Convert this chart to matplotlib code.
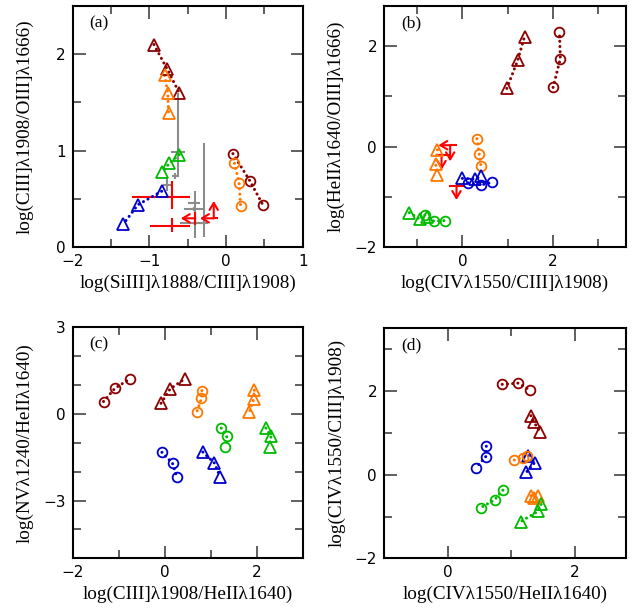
import matplotlib.pyplot as plt
import numpy as np
from matplotlib.ticker import MultipleLocator

DR = '#8B0000'
OR = '#FF7700'
GR = '#00BB00'
BL = '#0000CC'
GRAY = '#8C8C8C'

# panel (a)
a_tri_dr_x = [-0.94, -0.77, -0.61]
a_tri_dr_y = [2.10, 1.85, 1.60]
a_tri_or_x = [-0.80, -0.76, -0.75]
a_tri_or_y = [1.78, 1.60, 1.39]
a_tri_gr_x = [-0.61, -0.74, -0.83]
a_tri_gr_y = [0.96, 0.87, 0.78]
a_tri_bl_x = [-0.84, -1.15, -1.34]
a_tri_bl_y = [0.58, 0.44, 0.24]
a_cir_dr_x = [0.09, 0.31, 0.48]
a_cir_dr_y = [0.97, 0.69, 0.44]
a_cir_or_x = [0.11, 0.17, 0.19]
a_cir_or_y = [0.87, 0.67, 0.43]

# gray crosses (a)
a_gray_x = [-0.62, -0.66, -0.77, -0.41, -0.42, -0.29]
a_gray_y = [0.99, 0.74, 0.64, 0.46, 0.40, 0.25]
a_gray_xlo = [0.10, 0.04, 0.05, 0.08, 0.13, 0.31]
a_gray_xhi = [0.08, 0.05, 0.08, 0.07, 0.13, 0.05]
a_gray_ylo = [0.26, 0.03, 0.06, 0.36, 0.02, 0.14]
a_gray_yhi = [0.61, 0.03, 0.09, 0.12, 0.02, 0.83]

# red crosses (a)
a_red_x = [-0.70, -0.70]
a_red_y = [0.52, 0.22]
a_red_xlo = [0.52, 0.29]
a_red_xhi = [0.23, 0.23]
a_red_ylo = [0.12, 0.06]
a_red_yhi = [0.17, 0.08]

# red limits (a)
a_lim_x = [-0.40, -0.16]
a_lim_y = [0.30, 0.30]
a_lim_xto = [-0.59, -0.34]
a_lim_xhi = [0.0, 0.05]
a_lim_yerr = [0.07, 0.0]
a_lim_yto = [None, 0.48]

# panel (b)
b_tri_dr_x = [0.98, 1.22, 1.37]
b_tri_dr_y = [1.16, 1.72, 2.19]
b_cir_dr_x = [2.00, 2.16, 2.14]
b_cir_dr_y = [1.18, 1.75, 2.29]
b_cir_or_x = [0.32, 0.37, 0.41]
b_cir_or_y = [0.16, -0.14, -0.39]
b_tri_or_x = [-0.55, -0.59, -0.57]
b_tri_or_y = [-0.06, -0.34, -0.56]
b_tri_bl_x = [0.00, 0.27, 0.41]
b_tri_bl_y = [-0.63, -0.64, -0.59]
b_cir_bl_x = [0.13, 0.41, 0.65]
b_cir_bl_y = [-0.72, -0.76, -0.71]
b_tri_gr_x = [-1.17, -0.94, -0.79]
b_tri_gr_y = [-1.31, -1.44, -1.40]
b_cir_gr_x = [-0.83, -0.63, -0.39]
b_cir_gr_y = [-1.36, -1.48, -1.47]

# red limits (b)
b_lim_x = [-0.27, -0.46, -0.13]
b_lim_y = [0.03, -0.16, -0.78]
b_lim_xlo = [0.0, 0.11, 0.16]
b_lim_xhi = [0.16, 0.19, 0.17]
b_lim_xto = [-0.53, None, None]
b_lim_yto = [-0.29, -0.46, -1.06]

# panel (c)
c_cir_dr_x = [-1.33, -1.08, -0.76]
c_cir_dr_y = [0.43, 0.89, 1.21]
c_tri_dr_x = [-0.08, 0.12, 0.44]
c_tri_dr_y = [0.37, 0.87, 1.22]
c_cir_or_x = [0.81, 0.80, 0.70]
c_cir_or_y = [0.81, 0.54, 0.08]
c_tri_or_x = [1.95, 1.94, 1.84]
c_tri_or_y = [0.82, 0.53, 0.06]
c_cir_gr_x = [1.23, 1.35, 1.32]
c_cir_gr_y = [-0.49, -0.77, -1.13]
c_tri_gr_x = [2.20, 2.31, 2.29]
c_tri_gr_y = [-0.49, -0.77, -1.13]
c_cir_bl_x = [-0.06, 0.17, 0.27]
c_cir_bl_y = [-1.33, -1.71, -2.20]
c_tri_bl_x = [0.83, 1.08, 1.21]
c_tri_bl_y = [-1.32, -1.70, -2.19]

# panel (d)
d_cir_dr_x = [0.86, 1.11, 1.29]
d_cir_dr_y = [2.16, 2.19, 2.03]
d_tri_dr_x = [1.31, 1.36, 1.46]
d_tri_dr_y = [1.41, 1.25, 1.02]
d_cir_bl_x = [0.61, 0.60, 0.45]
d_cir_bl_y = [0.68, 0.43, 0.17]
d_tri_bl_x = [1.27, 1.37, 1.24]
d_tri_bl_y = [0.45, 0.29, 0.06]
d_cir_or_x = [1.05, 1.19, 1.25]
d_cir_or_y = [0.35, 0.41, 0.44]
d_tri_or_x = [1.31, 1.36, 1.42]
d_tri_or_y = [-0.50, -0.55, -0.52]
d_cir_gr_x = [0.87, 0.74, 0.52]
d_cir_gr_y = [-0.37, -0.60, -0.79]
d_tri_gr_x = [1.47, 1.42, 1.15]
d_tri_gr_y = [-0.71, -0.88, -1.12]

plt.rcParams['font.family'] = 'DejaVu Sans'

fig = plt.figure(figsize=(6.41, 6.08), dpi=100)
axa = fig.add_axes([0.1134, 0.5933, 0.3588, 0.3969])
axb = fig.add_axes([0.5990, 0.5933, 0.3770, 0.3969])
axc = fig.add_axes([0.1134, 0.0817, 0.3588, 0.3800])
axd = fig.add_axes([0.5990, 0.0817, 0.3770, 0.3783])


def serie(ax, x, y, col, mk):
    ms = 8.5 if mk == '^' else 7
    ax.plot(x, y, linestyle=(0, (0.01, 1.7)), color=col, lw=2.2,
            dash_capstyle='round', zorder=3)
    ax.plot(x, y, linestyle='none', marker=mk, ms=ms, mfc='none', mec=col,
            mew=1.3, zorder=4)


def arrow(ax, x0, y0, x1, y1):
    ax.annotate('', xy=(x1, y1), xytext=(x0, y0),
                arrowprops=dict(arrowstyle='->,head_length=0.5,head_width=0.3',
                                color='red', lw=1.5, shrinkA=0, shrinkB=0))


def stile(ax, xl, yl, xmaj, xmin, ymaj, ymin, lab, xlabel, ylabel, ylx):
    ax.set_xlim(xl)
    ax.set_ylim(yl)
    ax.xaxis.set_major_locator(MultipleLocator(xmaj))
    ax.xaxis.set_minor_locator(MultipleLocator(xmin))
    ax.yaxis.set_major_locator(MultipleLocator(ymaj))
    ax.yaxis.set_minor_locator(MultipleLocator(ymin))
    ax.tick_params(which='both', direction='in', top=True, right=True,
                   labelsize=11, width=1.2, color='#444444')
    ax.tick_params(which='major', length=9, pad=5)
    ax.tick_params(which='minor', length=6)
    for s in ax.spines.values():
        s.set_linewidth(1.5)
    ax.text(0.07, 0.91, lab, transform=ax.transAxes, fontsize=12.5,
            family='Liberation Serif')
    ax.set_xlabel(xlabel, fontsize=13.8, family='Liberation Serif')
    ax.set_ylabel(ylabel, fontsize=13.8, family='Liberation Serif')
    ax.yaxis.set_label_coords(ylx, 0.5)


# (a)
axa.errorbar(a_gray_x, a_gray_y, xerr=[a_gray_xlo, a_gray_xhi],
             yerr=[a_gray_ylo, a_gray_yhi], fmt='none', ecolor=GRAY,
             elinewidth=1.5, capsize=0, zorder=2)
axa.errorbar(a_red_x, a_red_y, xerr=[a_red_xlo, a_red_xhi],
             yerr=[a_red_ylo, a_red_yhi], fmt='none', ecolor='red',
             elinewidth=1.5, capsize=0, zorder=2)
for i in range(len(a_lim_x)):
    axa.errorbar([a_lim_x[i]], [a_lim_y[i]], xerr=[[0], [a_lim_xhi[i]]],
                 yerr=[[a_lim_yerr[i]], [a_lim_yerr[i]]], fmt='none',
                 ecolor='red', elinewidth=1.5, capsize=0)
    arrow(axa, a_lim_x[i], a_lim_y[i], a_lim_xto[i], a_lim_y[i])
    if a_lim_yto[i] is not None:
        arrow(axa, a_lim_x[i], a_lim_y[i], a_lim_x[i], a_lim_yto[i])
serie(axa, a_tri_dr_x, a_tri_dr_y, DR, '^')
serie(axa, a_tri_or_x, a_tri_or_y, OR, '^')
serie(axa, a_tri_gr_x, a_tri_gr_y, GR, '^')
serie(axa, a_tri_bl_x, a_tri_bl_y, BL, '^')
serie(axa, a_cir_dr_x, a_cir_dr_y, DR, 'o')
serie(axa, a_cir_or_x, a_cir_or_y, OR, 'o')
stile(axa, (-2, 1), (0, 2.5), 1, 0.5, 1, 0.5, '(a)',
      'log(SiIII]λ1888/CIII]λ1908)', 'log(CIII]λ1908/OIII]λ1666)', -0.168)

# (b)
for i in range(len(b_lim_x)):
    axb.errorbar([b_lim_x[i]], [b_lim_y[i]], xerr=[[b_lim_xlo[i]], [b_lim_xhi[i]]],
                 fmt='none', ecolor='red', elinewidth=1.5, capsize=0)
    arrow(axb, b_lim_x[i], b_lim_y[i], b_lim_x[i], b_lim_yto[i])
    if b_lim_xto[i] is not None:
        arrow(axb, b_lim_x[i], b_lim_y[i], b_lim_xto[i], b_lim_y[i])
serie(axb, b_tri_dr_x, b_tri_dr_y, DR, '^')
serie(axb, b_cir_dr_x, b_cir_dr_y, DR, 'o')
serie(axb, b_cir_or_x, b_cir_or_y, OR, 'o')
serie(axb, b_tri_or_x, b_tri_or_y, OR, '^')
serie(axb, b_tri_bl_x, b_tri_bl_y, BL, '^')
serie(axb, b_cir_bl_x, b_cir_bl_y, BL, 'o')
serie(axb, b_tri_gr_x, b_tri_gr_y, GR, '^')
serie(axb, b_cir_gr_x, b_cir_gr_y, GR, 'o')
stile(axb, (-1.73, 3.6), (-2, 2.8), 2, 1, 2, 1, '(b)',
      'log(CIVλ1550/CIII]λ1908)', 'log(HeIIλ1640/OIII]λ1666)', -0.161)

# (c)
serie(axc, c_cir_dr_x, c_cir_dr_y, DR, 'o')
serie(axc, c_tri_dr_x, c_tri_dr_y, DR, '^')
serie(axc, c_cir_or_x, c_cir_or_y, OR, 'o')
serie(axc, c_tri_or_x, c_tri_or_y, OR, '^')
serie(axc, c_cir_gr_x, c_cir_gr_y, GR, 'o')
serie(axc, c_tri_gr_x, c_tri_gr_y, GR, '^')
serie(axc, c_cir_bl_x, c_cir_bl_y, BL, 'o')
serie(axc, c_tri_bl_x, c_tri_bl_y, BL, '^')
stile(axc, (-2, 3), (-5, 3), 2, 1, 3, 1, '(c)',
      'log(CIII]λ1908/HeIIλ1640)', 'log(NVλ1240/HeIIλ1640)', -0.168)

# (d)
serie(axd, d_cir_dr_x, d_cir_dr_y, DR, 'o')
serie(axd, d_tri_dr_x, d_tri_dr_y, DR, '^')
serie(axd, d_cir_bl_x, d_cir_bl_y, BL, 'o')
serie(axd, d_tri_bl_x, d_tri_bl_y, BL, '^')
serie(axd, d_cir_or_x, d_cir_or_y, OR, 'o')
serie(axd, d_tri_or_x, d_tri_or_y, OR, '^')
serie(axd, d_cir_gr_x, d_cir_gr_y, GR, 'o')
serie(axd, d_tri_gr_x, d_tri_gr_y, GR, '^')
stile(axd, (-1, 2.8), (-2, 3.5), 2, 1, 2, 1, '(d)',
      'log(CIVλ1550/HeIIλ1640)', 'log(CIVλ1550/CIII]λ1908)', -0.157)

fig.savefig('out.png', dpi=100)
